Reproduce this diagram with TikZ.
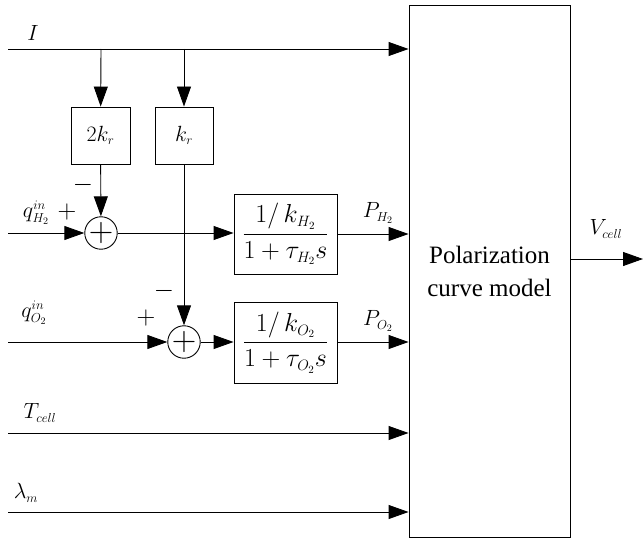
\RequirePackage{fix-cm}
\documentclass[tikz,border=0pt]{standalone}
\usepackage{amsmath}
\usepackage{fontspec}
\setmainfont{Liberation Serif}
\DeclareMathSizes{22}{22}{13}{10}
\DeclareMathSizes{26}{26}{15}{11}
\DeclareMathSizes{34}{34}{20}{14}
\usetikzlibrary{arrows.meta}
\begin{document}
\begin{tikzpicture}[x=1pt,y=-1pt,
  ln/.style={line width=0.9pt},
  arr/.style={ln,-{Triangle[length=20pt,width=14pt]}},
  blk/.style={draw,line width=0.9pt,inner sep=0pt},
  sumc/.style={draw,circle,line width=0.9pt,minimum size=30pt,inner sep=0pt,font=\fontsize{34}{36}\selectfont},
  lbl/.style={font=\fontsize{22}{24}\selectfont,inner sep=0pt},
  sgn/.style={font=\fontsize{26}{28}\selectfont,inner sep=0pt},
  frac/.style={font=\fontsize{26}{28}\selectfont,inner sep=0pt}]
\useasboundingbox (0,0) rectangle (643,543);
% main block
\node[blk,minimum width=161pt,minimum height=532pt,align=center,
  font=\fontsize{25}{33}\selectfont] (big) at (489.5,271) {Polarization\\curve model};
% gain blocks
\node[blk,minimum width=59pt,minimum height=57pt,lbl] (k2) at (100.5,135.5) {$2k_r$};
\node[blk,minimum width=58pt,minimum height=57pt,lbl] (k1) at (184,135.5) {$k_r$};
% summers
\node[sumc] (s1) at (101,233) {$+$};
\node[sumc] (s2) at (184,342) {$+$};
% transfer blocks
\node[blk,minimum width=103pt,minimum height=80pt,frac] (gH) at (285.5,234) {$\dfrac{1/\,k_{H_2}}{1+\tau_{H_2}s}$};
\node[blk,minimum width=103pt,minimum height=81pt,frac] (gO) at (285.5,342.5) {$\dfrac{1/\,k_{O_2}}{1+\tau_{O_2}s}$};
% coordinates
\coordinate (inI) at (8,49);
\coordinate (inqH) at (8,233);
\coordinate (inqO) at (8,342);
\coordinate (inT) at (8,433);
\coordinate (inL) at (8,512);
\coordinate (b1) at (101,49);
\coordinate (b2) at (184,49);
\coordinate (vout) at (643,259);
% connectors
\draw[arr] (inI) -- (inI -| big.west);
\draw[arr] (b1) -- (k2);
\draw[arr] (b2) -- (k1);
\draw[arr] (k2) -- (s1);
\draw[arr] (k1) -- (s2);
\draw[arr] (inqH) -- (s1);
\draw[arr] (s1) -- (gH.west |- s1);
\draw[arr] (inqO) -- (s2);
\draw[arr] (s2) -- (gO.west |- s2);
\draw[arr] (gH.east) -- (gH.east -| big.west);
\draw[arr] (gO.east |- s2) -- (s2 -| big.west);
\draw[arr] (inT) -- (inT -| big.west);
\draw[arr] (inL) -- (inL -| big.west);
\draw[arr] (big.east |- vout) -- (vout);
% labels
\node[lbl] (lI) at (33,33) {$I$};
\node[lbl] (lqH) at (36,213) {$q^{in}_{H_2}$};
\node[sgn] (pH1) at (67,212) {$+$};
\node[sgn] (mH1) at (83,185) {$-$};
\node[lbl] (lPH) at (378,213) {$P_{H_2}$};
\node[lbl] (lqO) at (34,313) {$q^{in}_{O_2}$};
\node[sgn] (pO1) at (146,318) {$+$};
\node[sgn] (mO1) at (164,291) {$-$};
\node[lbl] (lPO) at (378,321) {$P_{O_2}$};
\node[lbl] (lT) at (40,413) {$T_{cell}$};
\node[lbl] (lL) at (26,493) {$\lambda_m$};
\node[lbl] (lV) at (606,229) {$V_{cell}$};
\end{tikzpicture}
\end{document}
